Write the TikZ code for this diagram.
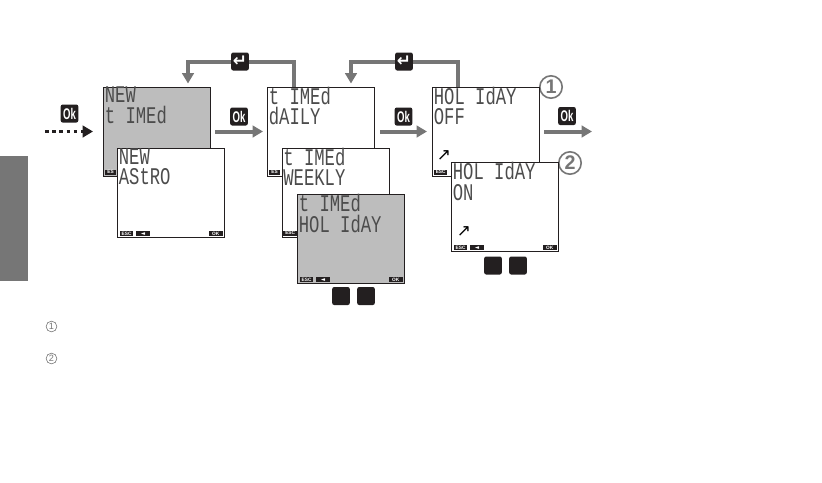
\documentclass[tikz,border=0pt]{standalone}
\usepackage{fontspec}
\usetikzlibrary{arrows.meta}
\setsansfont{Liberation Sans}
\newfontfamily\lcdfont[FakeStretch=0.72]{Liberation Mono}
\newfontfamily\keyfont[FakeStretch=0.62]{Liberation Sans}
\newfontfamily\symfont{DejaVu Sans}
\definecolor{lcdgray}{HTML}{BDBDBD}
\definecolor{flowgray}{HTML}{767676}
\definecolor{keyblack}{HTML}{231F20}
\begin{document}
\begin{tikzpicture}[
    x=0.25mm,
    y=-0.25mm,
    >=stealth,
    flow/.style={-{Triangle[length=2.6mm,width=2.9mm]},line width=1mm,flowgray},
    dotflow/.style={-{Triangle[length=2.6mm,width=2.9mm]},line width=0.9mm,keyblack,dash pattern=on 0.9mm off 0.9mm},
    screen/.style={draw=keyblack,line width=0.25mm,minimum width=26.75mm,minimum height=22.25mm,inner sep=0pt},
    lcdtext/.style={anchor=north west,inner sep=0pt,align=left,font=\lcdfont\fontsize{17}{14.5}\selectfont,text=black!70},
    tag/.style={fill=keyblack,text=white,minimum width=3.4mm,minimum height=1.3mm,inner sep=0pt,font=\sffamily\bfseries\fontsize{3.4}{3.4}\selectfont},
    backtag/.style={tag,font=\symfont\fontsize{4}{4}\selectfont},
    cuttag/.style={tag,minimum width=2.9mm,anchor=west,xshift=0.4mm,yshift=1.1mm},
    keybox/.style={fill=keyblack,rounded corners=0.5mm,minimum width=4.4mm,minimum height=4.5mm,inner sep=0pt,text=white},
    okkey/.style={keybox,font=\keyfont\bfseries\fontsize{11}{11}\selectfont},
    enterkey/.style={keybox,font=\symfont\bfseries\fontsize{12}{12}\selectfont},
    bigmark/.style={circle,draw=flowgray,line width=0.4mm,fill=white,minimum size=5.6mm,inner sep=0pt,text=flowgray,font=\sffamily\bfseries\fontsize{14}{14}\selectfont},
    smallmark/.style={circle,draw=flowgray,line width=0.15mm,minimum size=2.7mm,inner sep=0pt,text=flowgray,font=\sffamily\fontsize{6.5}{6.5}\selectfont},
    hookmark/.style={inner sep=0pt,font=\symfont\fontsize{12}{12}\selectfont}
  ]
    \useasboundingbox (0,0) rectangle (822,482);
    \fill[flowgray] (0,156) rectangle (28,281);

    % callouts sit under the screens
    \node[bigmark] (markone) at (551,87) {1};
    \node[bigmark] (marktwo) at (570,163) {2};

    % screens, back to front
    \foreach \name/\x/\y/\col/\lineone/\linetwo in {
      timed/157/131.5/lcdgray/NEW/t IMEd,
      astro/171/193/white/NEW/AStRO,
      daily/321/131.5/white/t IMEd/dAILY,
      weekly/335.5/192.5/white/t IMEd/WEEKLY,
      holiday/351/239/lcdgray/t IMEd/HOL IdAY,
      holoff/486/131.5/white/HOL IdAY/OFF,
      holon/505/207/white/HOL IdAY/ON}
    {
      \node[screen,fill=\col] (\name) at (\x,\y) {};
      \node[lcdtext,xshift=0.4mm,yshift=-0.05mm] (\name text) at (\name.north west) {\lineone\\\linetwo};
    }

    % soft key tags, only where no other screen hides them
    \foreach \name in {astro,holiday,holon}
    {
      \node[tag,xshift=2.4mm,yshift=1.1mm] (\name esc) at (\name.south west) {ESC};
      \node[backtag,xshift=6.5mm,yshift=1.1mm] (\name back) at (\name.south west) {◄};
      \node[tag,xshift=-2.3mm,yshift=1.1mm] (\name ok) at (\name.south east) {OK};
    }
    \node[cuttag] (timedesc) at (timed.south west) {ES};
    \node[cuttag] (dailyesc) at (daily.south west) {ES};
    \node[cuttag,minimum width=3.4mm] (weeklyesc) at (weekly.south west) {ESC};
    \node[cuttag,minimum width=3.4mm] (holoffesc) at (holoff.south west) {ESC};
    \node[hookmark] (hookoff) at (444,156) {↗};
    \node[hookmark] (hookon) at (464,232) {↗};

    % up and down keys
    \node[keybox] (upa) at (341,296) {};
    \node[keybox] (downa) at (366,296) {};
    \node[keybox] (upb) at (493,265.5) {};
    \node[keybox] (downb) at (518,265.5) {};

    % ok keys
    \node[okkey] (okstart) at (69.5,113.5) {Ok};
    \node[okkey] (oka) at (239,116.5) {Ok};
    \node[okkey] (okb) at (403.5,116.5) {Ok};
    \node[okkey] (okc) at (567,116) {Ok};

    \coordinate (startpt) at (45,131.5);
    \coordinate (endpt) at (592,131.5);
    \draw[dotflow,shorten >=2.5mm] (startpt) -- (timed.west);
    \draw[flow,shorten <=1mm,shorten >=1mm] (timed.east) -- (daily.west);
    \draw[flow,shorten <=1.25mm,shorten >=1.25mm] (daily.east) -- (holoff.west);
    \draw[flow,shorten <=1mm] (holoff.east) -- (endpt);

    % return loops, keys drawn over them
    \coordinate (loopastart) at (294,87);
    \coordinate (loopaend) at (188,83.5);
    \coordinate (loopbstart) at (458,87);
    \coordinate (loopbend) at (351,83.5);
    \coordinate (enterapt) at (240,61.5);
    \coordinate (enterbpt) at (404,61.5);
    \draw[flow] (loopastart) |- (enterapt) -| (loopaend);
    \draw[flow] (loopbstart) |- (enterbpt) -| (loopbend);
    \node[enterkey] (entera) at (enterapt) {↵};
    \node[enterkey] (enterb) at (enterbpt) {↵};

    \node[smallmark] (noteone) at (51.5,326.5) {1};
    \node[smallmark] (notetwo) at (51.5,358.5) {2};
  \end{tikzpicture}
\end{document}
